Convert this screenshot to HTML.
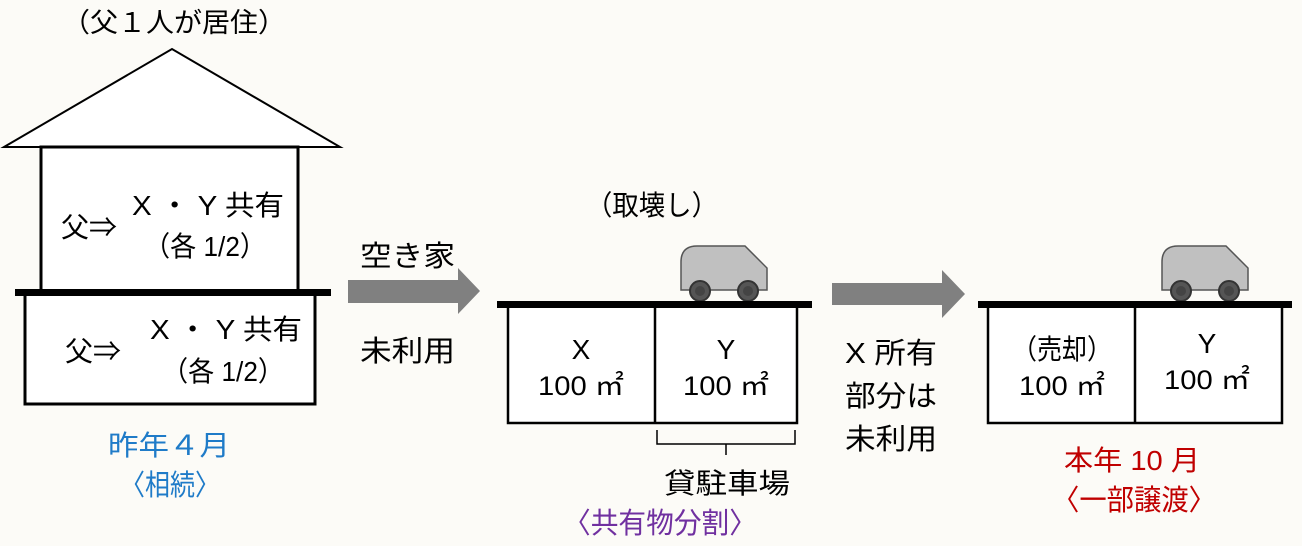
<!DOCTYPE html>
<html><head><meta charset="utf-8"><style>
html,body{margin:0;padding:0;background:#fcfbf7;}
svg{display:block;}
text{font-family:"Liberation Sans","Noto Sans CJK JP",sans-serif;font-size:27px;fill:#000;}
</style></head><body>
<svg width="1302" height="546" viewBox="0 0 1302 546" xmlns="http://www.w3.org/2000/svg">
<rect width="1302" height="546" fill="#fcfbf7"/>
<!-- house -->
<text x="62" y="32" textLength="224" lengthAdjust="spacingAndGlyphs">（父１人が居住）</text>
<polygon points="4,147 172,49 340,147" fill="#fff" stroke="#000" stroke-width="2"/>
<rect x="41" y="147" width="257" height="146" fill="#fff" stroke="#000" stroke-width="3"/>
<rect x="25" y="294" width="290" height="110" fill="#fff" stroke="#000" stroke-width="3"/>
<rect x="15" y="289" width="316" height="7" fill="#000"/>
<text x="61" y="237" style="font-size:28px">父⇒</text>
<text x="132" y="215" style="font-size:28px" textLength="152" lengthAdjust="spacingAndGlyphs">X ・ Y 共有</text>
<text x="144" y="256" style="font-size:28px" textLength="122" lengthAdjust="spacingAndGlyphs">（各 1/2）</text>
<text x="65" y="361" style="font-size:28px">父⇒</text>
<text x="150" y="339" style="font-size:28px" textLength="152" lengthAdjust="spacingAndGlyphs">X ・ Y 共有</text>
<text x="162" y="381" style="font-size:28px" textLength="122" lengthAdjust="spacingAndGlyphs">（各 1/2）</text>
<text x="108" y="455" style="fill:#1f7bc8;font-size:28px" textLength="122" lengthAdjust="spacingAndGlyphs">昨年４月</text>
<text x="120" y="495" style="fill:#1f7bc8;font-size:29px" textLength="100" lengthAdjust="spacingAndGlyphs">〈相続〉</text>
<!-- arrow1 -->
<polygon points="348,280 458,280 458,268 480,291 458,314 458,303 348,303" fill="#808080"/>
<text x="360" y="266" style="font-size:29px" textLength="95" lengthAdjust="spacingAndGlyphs">空き家</text>
<text x="360" y="361" style="font-size:29px" textLength="95" lengthAdjust="spacingAndGlyphs">未利用</text>
<!-- middle -->
<text x="586" y="215" style="font-size:28px" textLength="132" lengthAdjust="spacingAndGlyphs">（取壊し）</text>
<g>
<path d="M681,290 V262 Q681,246 697,246 H745 L767,268 V290 Z" fill="#c0c0c0" stroke="#555" stroke-width="1.5"/>
<circle cx="700" cy="291" r="10" fill="#555" stroke="#333" stroke-width="2"/><circle cx="700" cy="291" r="5" fill="#444"/>
<circle cx="748" cy="291" r="10" fill="#555" stroke="#333" stroke-width="2"/><circle cx="748" cy="291" r="5" fill="#444"/>
</g>
<rect x="508" y="305" width="289" height="118" fill="#fff" stroke="#000" stroke-width="2.5"/>
<line x1="655" y1="305" x2="655" y2="423" stroke="#000" stroke-width="2.5"/>
<rect x="497" y="301" width="315" height="7" fill="#000"/>
<text x="581" y="359" text-anchor="middle" style="font-size:28px">X</text>
<text x="581" y="395" text-anchor="middle" textLength="86" lengthAdjust="spacingAndGlyphs">100 ㎡</text>
<text x="726" y="359" text-anchor="middle" style="font-size:28px">Y</text>
<text x="726" y="395" text-anchor="middle" textLength="86" lengthAdjust="spacingAndGlyphs">100 ㎡</text>
<path d="M657,430 V444 H795 V430 M726,444 V455" fill="none" stroke="#000" stroke-width="1.5"/>
<text x="664" y="493" style="font-size:28px" textLength="126" lengthAdjust="spacingAndGlyphs">貸駐車場</text>
<text x="563" y="533" style="fill:#7030a0;font-size:29px" textLength="194" lengthAdjust="spacingAndGlyphs">〈共有物分割〉</text>
<!-- arrow2 -->
<polygon points="832,283 942,283 942,270 965,294 942,318 942,305 832,305" fill="#808080"/>
<text x="845" y="363" style="font-size:29px" textLength="92" lengthAdjust="spacingAndGlyphs">X 所有</text>
<text x="845" y="406" style="font-size:29px" textLength="92" lengthAdjust="spacingAndGlyphs">部分は</text>
<text x="845" y="449" style="font-size:29px" textLength="92" lengthAdjust="spacingAndGlyphs">未利用</text>
<!-- right -->
<g>
<path d="M1162,290 V262 Q1162,246 1178,246 H1226 L1248,268 V290 Z" fill="#c0c0c0" stroke="#555" stroke-width="1.5"/>
<circle cx="1181" cy="291" r="10" fill="#555" stroke="#333" stroke-width="2"/><circle cx="1181" cy="291" r="5" fill="#444"/>
<circle cx="1229" cy="291" r="10" fill="#555" stroke="#333" stroke-width="2"/><circle cx="1229" cy="291" r="5" fill="#444"/>
</g>
<rect x="988" y="305" width="294" height="118" fill="#fff" stroke="#000" stroke-width="2.5"/>
<line x1="1135" y1="305" x2="1135" y2="423" stroke="#000" stroke-width="2.5"/>
<rect x="978" y="301" width="314" height="7" fill="#000"/>
<text x="1012" y="359" style="font-size:28px" textLength="100" lengthAdjust="spacingAndGlyphs">（売却）</text>
<text x="1062" y="395" text-anchor="middle" textLength="86" lengthAdjust="spacingAndGlyphs">100 ㎡</text>
<text x="1207" y="353" text-anchor="middle" style="font-size:28px">Y</text>
<text x="1207" y="389" text-anchor="middle" textLength="86" lengthAdjust="spacingAndGlyphs">100 ㎡</text>
<text x="1064" y="470" style="fill:#c00000;font-size:28px" textLength="136" lengthAdjust="spacingAndGlyphs">本年 10 月</text>
<text x="1052" y="510" style="fill:#c00000;font-size:29px" textLength="164" lengthAdjust="spacingAndGlyphs">〈一部譲渡〉</text>
</svg>
</body></html>
